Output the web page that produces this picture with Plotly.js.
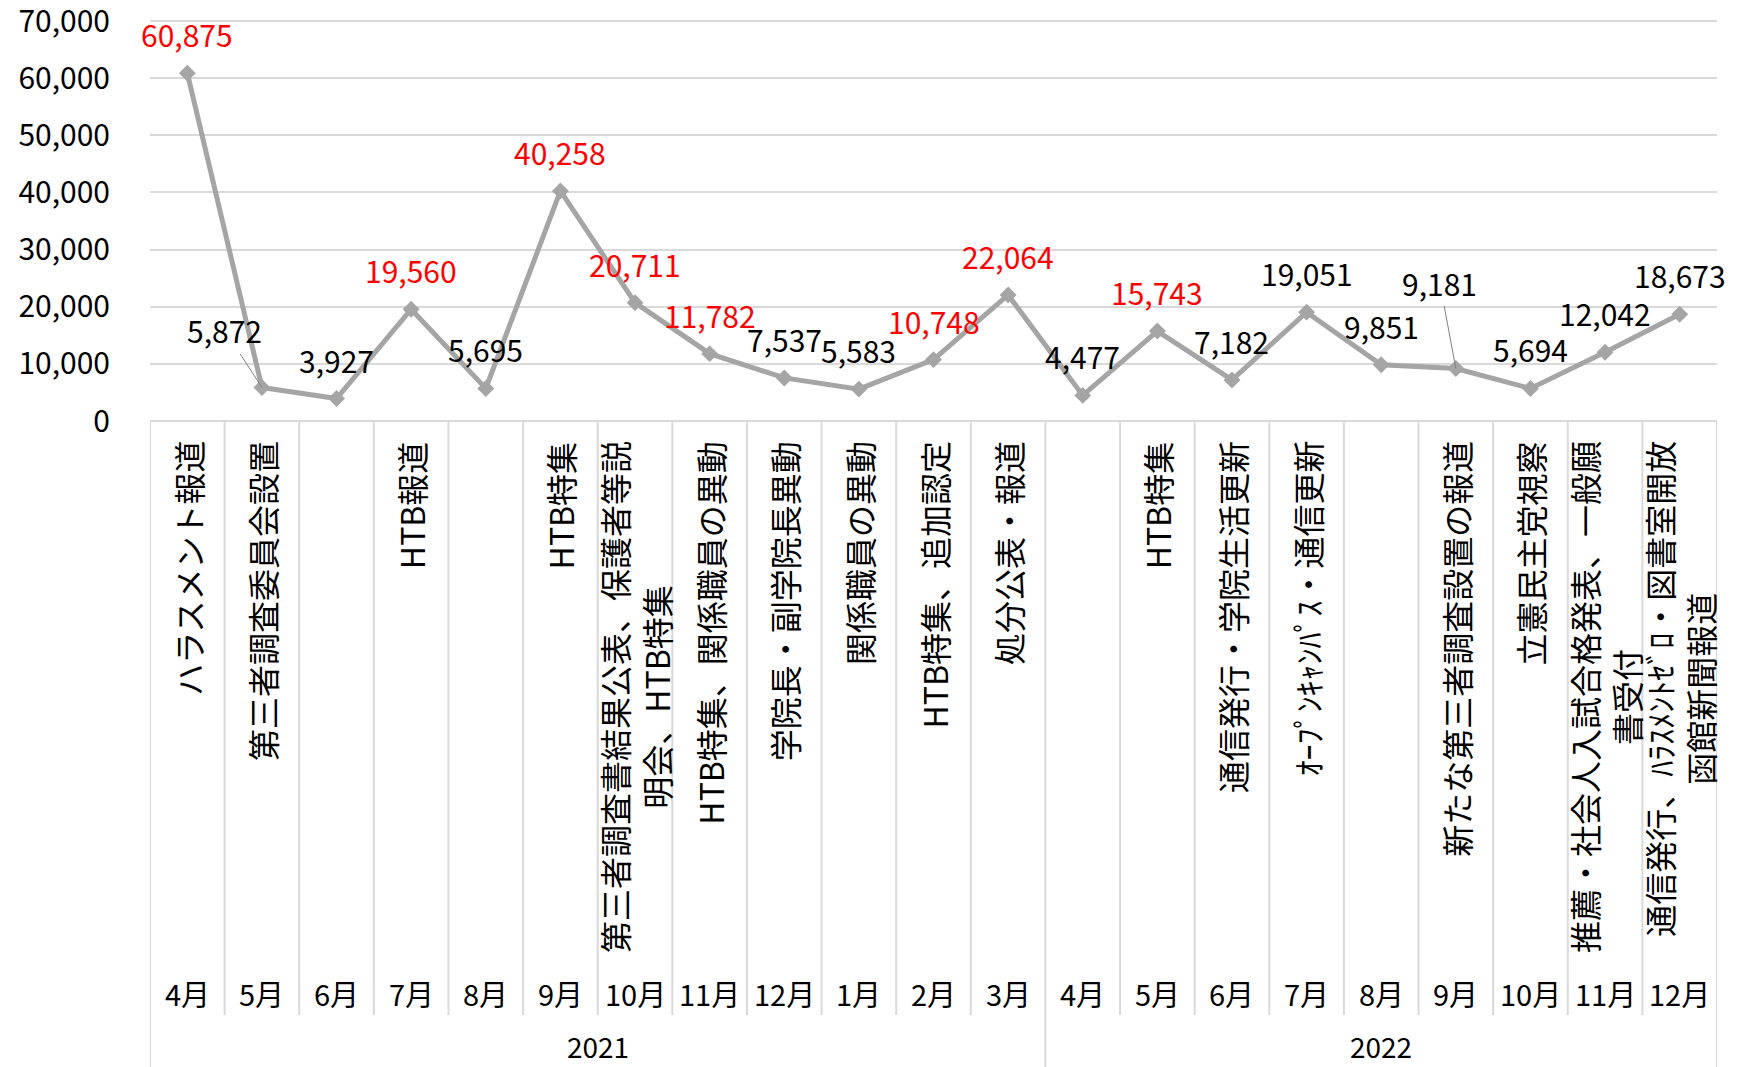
<!DOCTYPE html>
<html>
<head>
<meta charset="utf-8">
<script src="https://cdn.plot.ly/plotly-3.0.1.min.js"></script>
<style>
  html, body { margin: 0; padding: 0; background: #fff; }
  #chart { width: 1743px; height: 1067px; }
</style>
</head>
<body>
<div id="chart"></div>
<script>
// ---------- data ----------
const months = ['4月','5月','6月','7月','8月','9月','10月','11月','12月','1月','2月','3月',
                '4月','5月','6月','7月','8月','9月','10月','11月','12月'];
const yearOf = ['2021','2021','2021','2021','2021','2021','2021','2021','2021','2021','2021','2021',
                '2022','2022','2022','2022','2022','2022','2022','2022','2022'];
const events = [
  'ハラスメント報道',
  '第三者調査委員会設置',
  '',
  'HTB報道',
  '',
  'HTB特集',
  '第三者調査書結果公表、保護者等説<br>明会、HTB特集',
  'HTB特集、関係職員の異動',
  '学院長・副学院長異動',
  '関係職員の異動',
  'HTB特集、追加認定',
  '処分公表・報道',
  '',
  'HTB特集',
  '通信発行・学院生活更新',
  'ｵｰﾌﾟﾝｷｬﾝﾊﾟｽ・通信更新',
  '',
  '新たな第三者調査設置の報道',
  '立憲民主党視察',
  '推薦・社会人入試合格発表、一般願<br>書受付',
  '通信発行、ﾊﾗｽﾒﾝﾄｾﾞﾛ・図書室開放<br>函館新聞報道'
];
const values = [60875, 5872, 3927, 19560, 5695, 40258, 20711, 11782, 7537, 5583, 10748, 22064,
                4477, 15743, 7182, 19051, 9851, 9181, 5694, 12042, 18673];
const yTicks = [0, 10000, 20000, 30000, 40000, 50000, 60000, 70000];

// ---------- styles ----------
const labelRed = [true,false,false,true,false,true,true,true,false,false,true,true,
                  false,true,false,false,false,false,false,false,false];
const leaderOffsets = {1: [-37, -57], 17: [-16, -86]};
const FONT = '"Noto Sans CJK JP", "Noto Sans", sans-serif';
const GRID = '#d9d9d9';
const LINE = '#a5a5a5';

// plot geometry (pixels)
const W = 1743, H = 1067;
const PLOT_TOP = 16, PLOT_BOTTOM = 421, PLOT_LEFT = 150, PLOT_RIGHT = 1717;
const Y_MAX = 70875;            // small headroom so the 70,000 gridline is drawn
const plotH = PLOT_BOTTOM - PLOT_TOP;
const pxToPaper = p => (PLOT_BOTTOM - p) / plotH;

const idx = months.map((m, i) => i);

const trace = {
  x: idx,
  y: values,
  type: 'scatter',
  mode: 'lines+markers',
  line: {color: LINE, width: 5},
  marker: {symbol: 'diamond', size: 13, color: LINE},
  hoverinfo: 'skip',
  showlegend: false,
  cliponaxis: false
};

const fmt = v => v.toLocaleString('en-US');
const annotations = [];

// data labels
values.forEach((v, i) => {
  const color = labelRed[i] ? '#ff0000' : '#000000';
  if (leaderOffsets[i]) {
    annotations.push({
      x: i, y: v, xref: 'x', yref: 'y',
      text: fmt(v), showarrow: true,
      ax: leaderOffsets[i][0], ay: leaderOffsets[i][1],
      arrowhead: 0, arrowwidth: 1, arrowcolor: '#808080', standoff: 0,
      font: {family: FONT, size: 30, color: color}
    });
  } else {
    annotations.push({
      x: i, y: v, xref: 'x', yref: 'y',
      text: fmt(v), showarrow: false,
      xanchor: 'center', yanchor: 'middle', yshift: 39,
      font: {family: FONT, size: 30, color: color}
    });
  }
});

// event labels (vertical)
events.forEach((t, i) => {
  if (!t) return;
  annotations.push({
    x: i, y: pxToPaper(439), xref: 'x', yref: 'paper',
    text: t, showarrow: false, textangle: -90,
    xanchor: 'center', yanchor: 'top', align: 'center',
    font: {family: FONT, size: 32, color: '#000000'}
  });
});

// month labels
months.forEach((m, i) => {
  annotations.push({
    x: i, y: pxToPaper(993), xref: 'x', yref: 'paper',
    text: m, showarrow: false, xanchor: 'center', yanchor: 'middle',
    font: {family: FONT, size: 29, color: '#000000'}
  });
});

// year groups
const groups = [];
yearOf.forEach((y, i) => {
  if (!groups.length || groups[groups.length - 1].year !== y) groups.push({year: y, start: i, end: i});
  else groups[groups.length - 1].end = i;
});
groups.forEach(g => {
  annotations.push({
    x: (g.start + g.end) / 2, y: pxToPaper(1046), xref: 'x', yref: 'paper',
    text: g.year, showarrow: false, xanchor: 'center', yanchor: 'middle',
    font: {family: FONT, size: 28, color: '#000000'}
  });
});

// dividers
const shapes = [];
for (let b = 0; b <= months.length; b++) {
  const isGroupEdge = b === 0 || b === months.length || yearOf[b] !== yearOf[b - 1];
  shapes.push({
    type: 'line', xref: 'x', yref: 'paper',
    x0: b - 0.5, x1: b - 0.5, y0: 0, y1: pxToPaper(isGroupEdge ? 1070 : 1015),
    line: {color: GRID, width: 2}
  });
}

const layout = {
  width: W, height: H,
  margin: {l: PLOT_LEFT, r: W - PLOT_RIGHT, t: PLOT_TOP, b: H - PLOT_BOTTOM, pad: 0},
  paper_bgcolor: '#ffffff', plot_bgcolor: '#ffffff',
  font: {family: FONT, color: '#000000'},
  showlegend: false,
  xaxis: {
    type: 'linear', range: [-0.5, months.length - 0.5],
    showgrid: false, zeroline: false, showticklabels: false, ticks: '',
    showline: false, fixedrange: true
  },
  yaxis: {
    range: [0, Y_MAX], tickmode: 'array', tickvals: yTicks, tickformat: ',',
    ticklabeloverflow: 'allow',
    showgrid: true, gridcolor: GRID, gridwidth: 2,
    zeroline: true, zerolinecolor: GRID, zerolinewidth: 2,
    showline: false, ticks: 'outside', ticklen: 33, tickcolor: 'rgba(0,0,0,0)',
    tickfont: {family: FONT, size: 30, color: '#000000'},
    fixedrange: true
  },
  annotations: annotations,
  shapes: shapes
};

Plotly.newPlot('chart', [trace], layout, {displayModeBar: false, staticPlot: true});
</script>
</body>
</html>
